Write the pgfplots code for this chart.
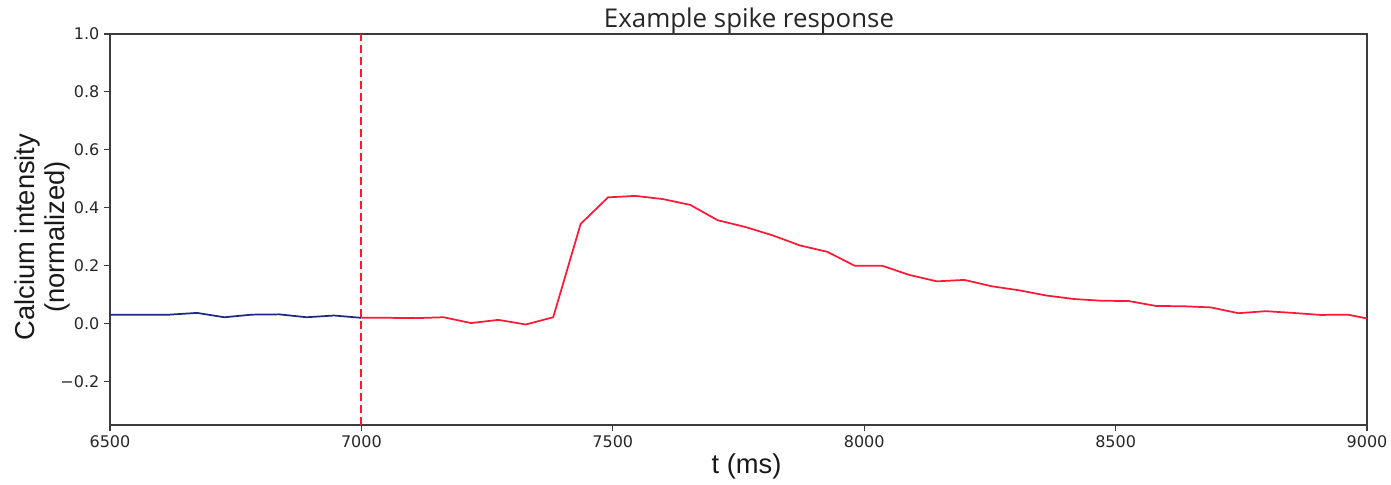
\documentclass[border=0pt]{standalone}
\usepackage{fontspec}
\setmainfont{DejaVu Sans}
\newfontfamily\labfont{Liberation Sans}
\newfontfamily\titfont{Open Sans}
\usepackage{pgfplots}
\pgfplotsset{compat=1.18}
\definecolor{navy}{RGB}{30,40,128}
\definecolor{sred}{RGB}{255,25,55}
\definecolor{axgray}{RGB}{60,60,60}
\begin{document}
\begin{tikzpicture}
\useasboundingbox (-82.5pt,-45pt) rectangle (960.75pt,318.75pt);
\begin{axis}[
  at={(0,0)}, anchor=south west,
  scale only axis, width=942.75pt, height=293.25pt,
  xmin=6500, xmax=9000, ymin=-0.35, ymax=1.0,
  xtick={6500,7000,7500,8000,8500,9000},
  xticklabels={6500,7000,7500,8000,8500,9000},
  ytick={-0.2,0,0.2,0.4,0.6,0.8,1.0},
  yticklabels={−0.2,0.0,0.2,0.4,0.6,0.8,1.0},
  tick align=outside, major tick length=4.5pt, tick pos=left,
  axis line style={axgray, line width=0.8pt},
  tick style={axgray, line width=0.8pt},
  ticklabel style={font=\fontsize{12}{13.5}\selectfont, text=black!85},
  clip=true,
]
\addplot[navy, line width=1.3pt] coordinates {
(6455,0.031) (6509.5,0.031) (6564,0.031) (6618.5,0.031) (6673,0.037)
(6727.5,0.022) (6782,0.031) (6836.5,0.032) (6891,0.022) (6945.5,0.028)
(7000,0.020)
};
\addplot[sred, line width=1.3pt] coordinates {
(7000,0.020) (7054.5,0.020) (7109,0.019) (7163.5,0.022) (7218,0.002)
(7272.5,0.013) (7327,-0.003) (7381.5,0.022) (7436,0.344) (7490.5,0.436)
(7545,0.441) (7599.5,0.430) (7654,0.410) (7708.5,0.357) (7763,0.334)
(7817.5,0.305) (7872,0.270) (7926.5,0.248) (7981,0.200) (8035.5,0.200)
(8090,0.168) (8144.5,0.146) (8199,0.151) (8253.5,0.129) (8308,0.115)
(8362.5,0.097) (8417,0.085) (8471.5,0.079) (8526,0.078) (8580.5,0.061)
(8635,0.060) (8689.5,0.056) (8744,0.036) (8798.5,0.043) (8853,0.037)
(8907.5,0.030) (8962,0.031) (9016.5,0.012)
};
\addplot[sred, line width=1.5pt, dash pattern=on 6pt off 3pt] coordinates {(7000,-0.35) (7000,1.0)};
\end{axis}
\node[anchor=base, inner sep=0pt, font=\titfont\fontsize{19.4}{21}\selectfont, text=black!85] at (479.25pt,298.1pt) {Example spike response};
\node[anchor=base, inner sep=0pt, font=\labfont\fontsize{20.5}{22.5}\selectfont, text=black!90] at (477.4pt,-36pt) {t (ms)};
\node[rotate=90, anchor=south, inner sep=0pt, align=center, font=\labfont\fontsize{20.5}{22.5}\selectfont, text=black!90] at (-30pt,141pt) {Calcium intensity\\(normalized)};
\end{tikzpicture}
\end{document}
